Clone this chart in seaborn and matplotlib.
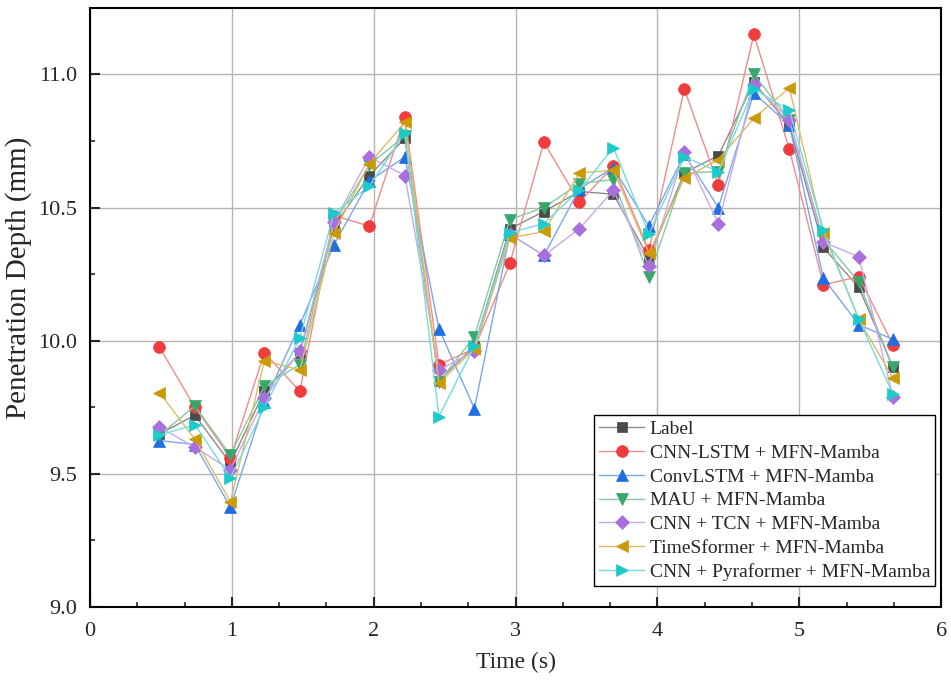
import numpy as np
import pandas as pd
import seaborn as sns
import matplotlib.pyplot as plt
from matplotlib.ticker import MultipleLocator, AutoMinorLocator

time_s = [0.49, 0.74, 0.99, 1.23, 1.48, 1.72, 1.97, 2.22, 2.46, 2.71, 2.96,
          3.20, 3.45, 3.69, 3.94, 4.19, 4.43, 4.68, 4.93, 5.17, 5.42, 5.66]

label = [9.65, 9.72, 9.54, 9.81, 9.955, 10.43, 10.62, 10.76, 9.85, 9.98, 10.42,
         10.485, 10.56, 10.55, 10.31, 10.63, 10.695, 10.97, 10.81, 10.35, 10.20, 9.90]
cnn_lstm = [9.975, 9.75, 9.56, 9.955, 9.81, 10.47, 10.43, 10.84, 9.91, 9.97, 10.29,
            10.745, 10.52, 10.655, 10.34, 10.945, 10.585, 11.15, 10.72, 10.21, 10.24, 9.985]
convlstm = [9.625, 9.61, 9.375, 9.77, 10.06, 10.36, 10.60, 10.69, 10.045, 9.745, 10.40,
            10.32, 10.57, 10.65, 10.43, 10.70, 10.50, 10.93, 10.81, 10.235, 10.06, 10.005]
mau = [9.645, 9.755, 9.57, 9.83, 9.91, 10.44, 10.66, 10.77, 9.845, 10.015, 10.455,
       10.50, 10.59, 10.605, 10.24, 10.63, 10.635, 11.00, 10.83, 10.38, 10.22, 9.90]
cnn_tcn = [9.675, 9.60, 9.515, 9.785, 9.96, 10.445, 10.69, 10.62, 9.89, 9.96, 10.40,
           10.32, 10.42, 10.565, 10.28, 10.71, 10.44, 10.96, 10.83, 10.37, 10.315, 9.79]
timesformer = [9.805, 9.63, 9.395, 9.925, 9.89, 10.405, 10.665, 10.82, 9.84, 9.97, 10.385,
               10.41, 10.63, 10.64, 10.33, 10.61, 10.68, 10.835, 10.95, 10.405, 10.08, 9.86]
pyraformer = [9.645, 9.685, 9.485, 9.75, 10.01, 10.48, 10.58, 10.78, 9.715, 9.98, 10.405,
              10.44, 10.565, 10.725, 10.40, 10.69, 10.635, 10.945, 10.865, 10.415, 10.08, 9.80]

series_names = ["Label", "CNN-LSTM + MFN-Mamba", "ConvLSTM + MFN-Mamba", "MAU + MFN-Mamba",
                "CNN + TCN + MFN-Mamba", "TimeSformer + MFN-Mamba",
                "CNN + Pyraformer + MFN-Mamba"]
series_values = [label, cnn_lstm, convlstm, mau, cnn_tcn, timesformer, pyraformer]
colors = ["#4a4a4a", "#f03c3c", "#1f6fe0", "#38a86a", "#a96fdc", "#cc9a06", "#1ccaca"]
line_colors = ["#8a8a8a", "#f28a8a", "#7aa6ec", "#86c9a2", "#c9a9ea", "#ddbb66", "#74dcdc"]
markers = ["s", "o", "^", "v", "D", "<", ">"]
msizes = [7, 8.5, 8.5, 8.5, 7, 8.5, 8.5]

sns.set_style("white")
plt.rcParams["font.family"] = ["Liberation Serif", "DejaVu Serif"]

fig = plt.figure(figsize=(9.51, 6.84), dpi=100)
ax = fig.add_axes([0.0946, 0.1126, 0.895, 0.876])

for name, vals, c, lc, m, ms in zip(series_names, series_values, colors,
                                    line_colors, markers, msizes):
    df = pd.DataFrame({"Time": time_s, "Depth": vals})
    sns.lineplot(data=df, x="Time", y="Depth", ax=ax, color=lc, linewidth=1.0,
                 marker=m, markersize=ms, markerfacecolor=c, markeredgecolor=c,
                 markeredgewidth=0.5, label=name, zorder=3)

ax.set_xlim(0, 6)
ax.set_ylim(9.0, 11.25)
ax.xaxis.set_major_locator(MultipleLocator(1))
ax.xaxis.set_minor_locator(AutoMinorLocator(3))
ax.set_yticks([9.0, 9.5, 10.0, 10.5, 11.0])
ax.set_yticklabels(["9.0", "9.5", "10.0", "10.5", "11.0"])
ax.yaxis.set_minor_locator(AutoMinorLocator(2))

ax.grid(True, which="major", color="#b4b4b4", linewidth=1.0, zorder=0)
ax.tick_params(axis="both", which="major", direction="in", length=7, width=1.5,
               labelsize=16, bottom=True, left=True, top=False, right=False)
ax.tick_params(axis="y", which="major", pad=9)
ax.tick_params(axis="x", which="major", pad=11)
ax.tick_params(axis="both", which="minor", direction="in", length=3.5, width=1.2,
               bottom=True, left=True, top=False, right=False)
for sp in ax.spines.values():
    sp.set_linewidth(1.5)
    sp.set_color("black")

ax.set_xlabel("Time (s)", fontsize=17, labelpad=8)
ax.set_ylabel("Penetration Depth (mm)", fontsize=21)
ax.yaxis.set_label_coords(-0.068, 0.549)

leg = ax.legend(loc="lower right", bbox_to_anchor=(0.993, 0.035), borderaxespad=0,
                fontsize=14, frameon=True, fancybox=False, edgecolor="black",
                framealpha=1, borderpad=0.25, labelspacing=0.32,
                handlelength=2.3, handletextpad=0.3)
leg.get_frame().set_linewidth(1.0)

fig.savefig("out.png", dpi=100)
